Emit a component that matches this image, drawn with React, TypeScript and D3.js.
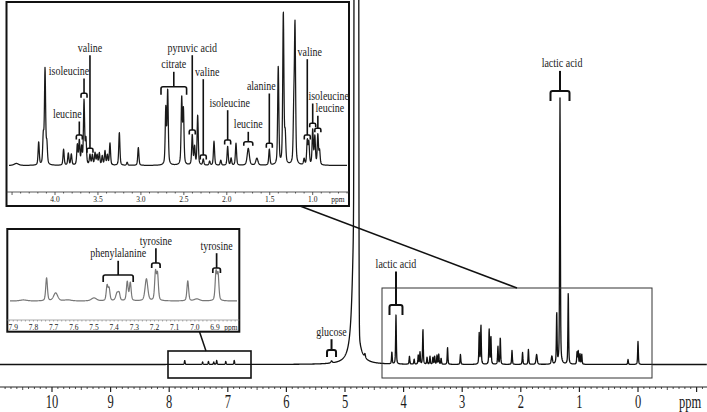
import React from 'react';
import * as d3 from 'd3';

type Peak = [number, number, number?, number?]; // ppm, intensity, hwhm (ppm), lorentz fraction

const W = 707, H = 412;

// ---------- DATA ----------
const mainTickLabels = [10, 9, 8, 7, 6, 5, 4, 3, 2, 1, 0];
const inset1TickLabels = [4.0, 3.5, 3.0, 2.5, 2.0, 1.5, 1.0];
const inset2TickLabels = [7.9, 7.8, 7.7, 7.6, 7.5, 7.4, 7.3, 7.2, 7.1, 7.0, 6.9];

// full spectrum peaks
const mainPeaks: Peak[] = [
  [4.805, 100000, 0.0141, 0], [4.84, 150, 0.04, 1], [4.66, 4, 0.01, 1], [5.23, 2, 0.015, 0.5],
  [7.735, 4], [7.43, 2.5], [7.33, 3], [7.24, 2.5], [7.19, 4], [7.035, 3], [6.89, 4],
  [4.2, 12], [4.13, 49], [3.9, 8], [3.82, 5], [3.75, 9], [3.72, 12], [3.67, 35],
  [3.6, 7], [3.55, 8], [3.5, 7], [3.47, 8], [3.43, 9], [3.4, 10], [3.36, 6],
  [3.25, 17], [3.03, 10], [2.71, 31], [2.68, 39], [2.54, 35], [2.51, 28],
  [2.39, 18], [2.35, 27], [2.15, 14], [1.97, 12], [1.87, 15], [1.73, 10, 0.012], [1.47, 8, 0.012],
  [1.387, 51], [1.331, 266], [1.19, 72], [1.04, 12], [1.02, 13], [0.99, 10], [0.96, 10],
  [0.17, 5], [0.0, 23],
];

// upper inset (aliphatic region)
const inset1Peaks: Peak[] = [
  [4.45, 2, 0.03], [4.19, 23], [4.136, 28], [4.116, 95], [4.095, 20],
  [3.9, 16], [3.845, 12], [3.81, 11], [3.74, 20], [3.717, 24], [3.69, 17], [3.662, 64], [3.64, 25],
  [3.593, 10], [3.565, 10], [3.534, 12], [3.51, 10], [3.484, 12], [3.45, 9], [3.418, 14], [3.39, 10], [3.36, 22],
  [3.251, 33], [3.16, 3], [3.03, 18], [2.71, 56], [2.688, 74], [2.525, 66], [2.505, 54],
  [2.402, 30], [2.375, 18], [2.339, 50], [2.274, 6], [2.2, 4], [2.149, 24], [2.07, 5],
  [1.99, 19], [1.95, 7], [1.893, 22], [1.75, 17, 0.015], [1.65, 7, 0.015], [1.505, 16],
  [1.401, 98], [1.342, 152], [1.32, 28], [1.22, 50], [1.206, 136], [1.1, 6],
  [1.063, 24], [1.045, 22], [1.0, 35], [0.975, 28], [0.94, 30], [0.92, 14],
];

// lower inset (aromatic region)
const inset2Peaks: Peak[] = [
  [7.85, 1, 0.02], [7.735, 23], [7.69, 8, 0.012], [7.63, 1, 0.02], [7.5, 3, 0.015],
  [7.435, 15], [7.425, 12], [7.385, 8, 0.008], [7.375, 6], [7.335, 19], [7.32, 18],
  [7.24, 22, 0.008], [7.195, 28], [7.185, 26], [7.035, 20], [6.99, 2, 0.015], [6.895, 28], [6.885, 26],
];

const inset1Labels = ['valine', 'isoleucine', 'leucine', 'citrate', 'pyruvic acid', 'valine', 'isoleucine', 'leucine', 'alanine', 'valine', 'isoleucine', 'leucine'];
const inset1LabelPpm = [3.593, 3.662, 3.717, 2.617, 2.402, 2.274, 1.99, 1.75, 1.505, 1.063, 1.0, 0.94];
const inset2Labels = ['phenylalanine', 'tyrosine', 'tyrosine'];
const inset2LabelPpm = [7.38, 7.193, 6.892];
const mainLabels = ['lactic acid', 'lactic acid', 'glucose'];
const mainLabelPpm = [1.331, 4.13, 5.23];

// ---------- LAYOUT ----------
const inset1Layout = [
  // dx, labelBaseline, bracketTop, bracketHalfWidth(px), legHeight
  [0, 51.7, 148.3, 3, 4.5], [-15, 75, 93.3, 3, 4.5], [-12, 118, 135, 3, 4.5], [0, 68.3, 86.7, 12.8, 8],
  [0, 51.7, 130, 3, 4.5], [4, 75.7, 155, 3, 4.5], [2, 106.7, 140, 3, 4.5], [0, 128.3, 141.7, 4.5, 4],
  [-8, 90, 143.3, 3, 4.5], [2.5, 55.7, 135, 3, 4.5], [16, 100, 123.3, 3, 4], [12, 112.3, 128.3, 3, 4],
];
const inset2Layout = [
  [0, 257.3, 275, 15, 7], [0, 244.7, 263, 4.2, 5], [0, 249.7, 268, 3.8, 5],
];
const mainLayout = [
  [2, 67.4, 91, 9.5, 10], [0, 268, 305, 6.5, 10], [0, 335.7, 350, 4.5, 7],
];

const FONT = "'Liberation Serif', 'DejaVu Serif', serif";

function intensity(peaks: Peak[], ppm: number, defW: number, defEta: number) {
  let s = 0;
  for (const p of peaks) {
    const c = p[0], h = p[1];
    const w = p[2] ?? defW;
    const eta = p[3] ?? defEta;
    const d = (ppm - c) / w;
    const d2 = d * d;
    s += h * (eta / (1 + d2) + (1 - eta) * Math.exp(-Math.LN2 * d2));
  }
  return s;
}

function specPath(peaks: Peak[], xs: d3.ScaleLinear<number, number>, ys: d3.ScaleLinear<number, number>,
  x0: number, x1: number, defW: number, defEta: number, maxI: number) {
  const pts: [number, number][] = [];
  for (let px = x0; px <= x1; px += 0.2) {
    const v = Math.min(maxI, intensity(peaks, xs.invert(px), defW, defEta));
    pts.push([px, ys(v)]);
  }
  return d3.line()(pts) || '';
}

function bracket(cx: number, w: number, top: number, h: number) {
  const r = Math.min(2, h / 2, w / 2);
  return `M${cx - w},${top + h} L${cx - w},${top + r} Q${cx - w},${top} ${cx - w + r},${top} L${cx + w - r},${top} Q${cx + w},${top} ${cx + w},${top + r} L${cx + w},${top + h}`;
}

const Txt = ({ x, y, size, sy = 1.2, anchor = 'middle', fill = '#1a1a1a', children }: any) => (
  <text transform={`translate(${x},${y}) scale(1,${sy})`} fontSize={size} textAnchor={anchor} fill={fill} fontFamily={FONT}>{children}</text>
);

function Annotations({ labels, ppms, layout, xs, size = 10, sw = 1.7 }: any) {
  return (
    <g>
      {labels.map((lab: string, i: number) => {
        const [dx, by, top, bw, bh] = layout[i];
        const cx = xs(ppms[i]);
        return (
          <g key={i}>
            <Txt x={cx + dx} y={by} size={size}>{lab}</Txt>
            <line x1={cx} x2={cx} y1={by + 3.5} y2={top} stroke="#111" strokeWidth={sw} />
            <path d={bracket(cx, bw, top, bh)} fill="none" stroke="#111" strokeWidth={sw} />
          </g>
        );
      })}
    </g>
  );
}

export default function App() {
  // main
  const xMain = d3.scaleLinear().domain([10, 0]).range([52, 638]);
  const mainBase = 364.5;
  const yMain = d3.scaleLinear().domain([0, mainBase]).range([mainBase, 0]);
  const mainD = specPath(mainPeaks, xMain, yMain, 0, W, 0.007, 0.5, 600);

  // inset 1
  const x1 = d3.scaleLinear().domain([4.0, 1.0]).range([55, 312.7]);
  const y1 = d3.scaleLinear().domain([0, 160]).range([165.5, 5.5]);
  const ins1D = specPath(inset1Peaks, x1, y1, 9, 347, 0.008, 0.45, 160);

  // inset 2
  const x2 = d3.scaleLinear().domain([7.9, 6.9]).range([13.3, 215]);
  const y2 = d3.scaleLinear().domain([0, 70]).range([301, 231]);
  const ins2D = specPath(inset2Peaks, x2, y2, 10, 237, 0.005, 0.4, 70);

  const mainMinor = d3.range(-11, 110).map((k) => k / 10).filter((v) => xMain(v) >= 0 && xMain(v) <= W);
  const ins1Minor = d3.range(6, 46).map((k) => k / 10).filter((v) => x1(v) > 7 && x1(v) < 348);
  const ins2Minor = d3.range(680, 794, 2).map((k) => k / 100).filter((v) => x2(v) > 8 && x2(v) < 238);

  return (
    <svg width={W} height={H} style={{ position: 'absolute', left: 0, top: 0, background: '#fff' }}>
      <rect width={W} height={H} fill="#fff" />
      {/* main spectrum */}
      <path d={mainD} fill="none" stroke="#111" strokeWidth={1.3} strokeLinejoin="round" />

      {/* main axis */}
      <line x1={0} x2={W} y1={387} y2={387} stroke="#222" strokeWidth={1} />
      {mainMinor.map((v, i) => {
        const isMajor = Math.abs(v - Math.round(v)) < 1e-6;
        const isHalf = Math.abs(v * 2 - Math.round(v * 2)) < 1e-6;
        const len = isMajor ? 5 : isHalf ? 3 : 2;
        return <line key={i} x1={xMain(v)} x2={xMain(v)} y1={387} y2={387 + len} stroke="#222" strokeWidth={isMajor ? 1.2 : 0.8} />;
      })}
      {mainTickLabels.map((t) => (
        <Txt key={t} x={xMain(t)} y={408} size={12.5} sy={1.45}>{t}</Txt>
      ))}
      <Txt x={690} y={408} size={12.5} sy={1.45}>ppm</Txt>

      {/* zoom boxes on main spectrum */}
      <rect x={382} y={288} width={270} height={90} fill="none" stroke="#333" strokeWidth={1} />
      <rect x={168} y={351} width={83} height={27} fill="none" stroke="#111" strokeWidth={1.6} />

      <Annotations labels={mainLabels} ppms={mainLabelPpm} layout={mainLayout} xs={xMain} size={10} sw={2} />

      {/* inset 1 */}
      <rect x={6.5} y={2} width={342.5} height={204} fill="#fff" stroke="#111" strokeWidth={2} />
      <path d={ins1D} fill="none" stroke="#1a1a1a" strokeWidth={1.25} strokeLinejoin="round" />
      <line x1={6.5} x2={349} y1={192} y2={192} stroke="#333" strokeWidth={0.8} />
      {ins1Minor.map((v, i) => {
        const isMajor = Math.abs(v * 2 - Math.round(v * 2)) < 1e-6;
        return <line key={i} x1={x1(v)} x2={x1(v)} y1={192} y2={192 + (isMajor ? 3 : 1.5)} stroke="#333" strokeWidth={0.8} />;
      })}
      {inset1TickLabels.map((t) => (
        <Txt key={t} x={x1(t)} y={202.2} size={7.5} sy={1.15}>{t.toFixed(1)}</Txt>
      ))}
      <Txt x={338} y={202.2} size={7.5} sy={1.15}>ppm</Txt>
      <Annotations labels={inset1Labels} ppms={inset1LabelPpm} layout={inset1Layout} xs={x1} size={10} sw={1.6} />

      {/* inset 2 */}
      <rect x={7.3} y={229} width={232} height={102.7} fill="#fff" stroke="#111" strokeWidth={2} />
      <path d={ins2D} fill="none" stroke="#777" strokeWidth={1.2} strokeLinejoin="round" />
      <line x1={7.3} x2={239.3} y1={320} y2={320} stroke="#888" strokeWidth={0.7} />
      {ins2Minor.map((v, i) => (
        <line key={i} x1={x2(v)} x2={x2(v)} y1={320} y2={321.5} stroke="#888" strokeWidth={0.7} />
      ))}
      {inset2TickLabels.map((t) => (
        <Txt key={t} x={x2(t)} y={330} size={7.5} sy={1.15}>{t.toFixed(1)}</Txt>
      ))}
      <Txt x={231} y={330} size={7.5} sy={1.15}>ppm</Txt>
      <Annotations labels={inset2Labels} ppms={inset2LabelPpm} layout={inset2Layout} xs={x2} size={10} sw={1.7} />

      {/* connector lines */}
      <line x1={300} y1={206} x2={517} y2={288} stroke="#111" strokeWidth={1.5} />
      <line x1={199.5} y1={331.7} x2={206} y2={351} stroke="#111" strokeWidth={1.5} />
    </svg>
  );
}
